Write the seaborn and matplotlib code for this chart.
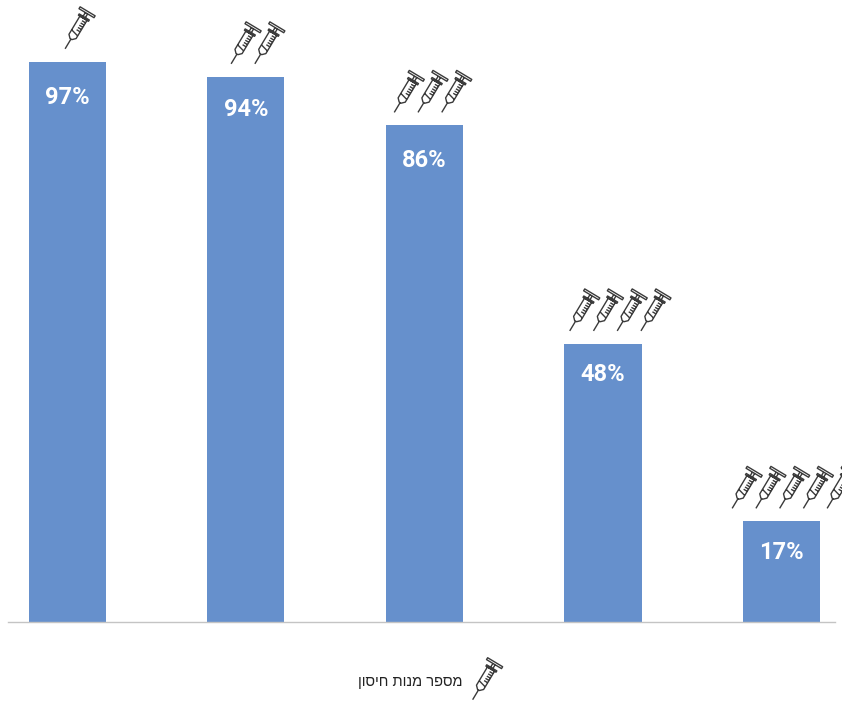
import matplotlib
matplotlib.use("Agg")
import numpy as np
import pandas as pd
import matplotlib.pyplot as plt
import seaborn as sns
from matplotlib.path import Path
from matplotlib.transforms import Affine2D

doses = ["1", "2", "3", "4", "5"]
values = [96.9, 94.3, 85.9, 48.1, 17.4]
labels = ["97%", "94%", "86%", "48%", "17%"]
label_drop = [6.1, 5.7, 6.1, 5.2, 5.4]
icon_counts = [1, 2, 3, 4, 5]
first_icon_shift = [0.05, -0.02, -0.106, -0.123, -0.213]
# Hebrew, in visual order because matplotlib lays text out left to right
axis_label = "מספר מנות חיסון"[::-1]

BAR = "#6690CC"
INK = "#3a3a3a"


def syringe_marker():
    v, c = [], []

    def poly(pts, close=True):
        for i, p in enumerate(pts):
            v.append(p)
            c.append(Path.MOVETO if i == 0 else Path.LINETO)
        if close:
            v.append(pts[0])
            c.append(Path.CLOSEPOLY)

    poly([(-0.40, 0.90), (0.40, 0.90), (0.40, 1.0), (-0.40, 1.0)])    # thumb rest
    poly([(-0.06, 0.90), (-0.06, 0.70)], False)                        # plunger
    poly([(0.06, 0.90), (0.06, 0.70)], False)
    poly([(-0.27, 0.70), (0.27, 0.70), (0.27, 0.63), (-0.27, 0.63)])   # flange
    poly([(-0.19, 0.63), (0.19, 0.63), (0.19, -0.34), (0.05, -0.48),
          (-0.05, -0.48), (-0.19, -0.34)])                             # barrel
    for y in (0.50, 0.38, 0.26, 0.14, 0.02):
        poly([(0.0, y), (0.19, y)], False)                             # scale marks
    poly([(-0.19, -0.10), (0.19, -0.20)], False)
    poly([(0.0, -0.48), (0.0, -1.0)], False)                           # needle
    rot = Affine2D().rotate_deg(-31)
    return Path(rot.transform(np.array(v, float)), c)


MARK = syringe_marker()
MARK_SIZE = 1120

df = pd.DataFrame({"doses": doses, "value": values})

sns.set_theme(style="white")
plt.rcParams["font.family"] = ["Liberation Sans", "DejaVu Sans"]

W, H = 842, 702
fig = plt.figure(figsize=(W / 100, H / 100), dpi=100, facecolor="white")
ax = fig.add_axes([8 / W, (H - 622) / H, (835 - 8) / W, 622 / H])

sns.barplot(data=df, x="doses", y="value", color=BAR, saturation=1, width=0.432,
            linewidth=0, ax=ax)

ax.set_xlim(-0.333, 4.30)
ax.set_ylim(0, 107.6)
ax.set_xlabel("")
ax.set_ylabel("")
ax.set_xticks([])
ax.set_yticks([])
sns.despine(ax=ax, left=True)
ax.spines["bottom"].set_color("#c4c4c4")
ax.spines["bottom"].set_linewidth(1.0)

for i, (val, lab, drop, n, sh) in enumerate(zip(values, labels, label_drop, icon_counts, first_icon_shift)):
    ax.text(i, val - drop, lab, color="white", ha="center", va="center",
            fontsize=17, fontweight="bold", family="Roboto")
    xs = [i + sh + k * 0.133 for k in range(n)]
    ax.scatter(xs, [val + 5.5] * n, marker=MARK, s=MARK_SIZE, facecolors="none",
               edgecolors=INK, linewidths=1.0, clip_on=False, zorder=4)

ax.scatter([2.333], [-10.2], marker=MARK, s=MARK_SIZE, facecolors="none",
           edgecolors=INK, linewidths=1.0, clip_on=False, zorder=4)
ax.text(2.215, -10.4, axis_label, color="#222222", ha="right", va="center",
        fontsize=10.5, clip_on=False)

fig.savefig("out.png", dpi=100, facecolor="white")
